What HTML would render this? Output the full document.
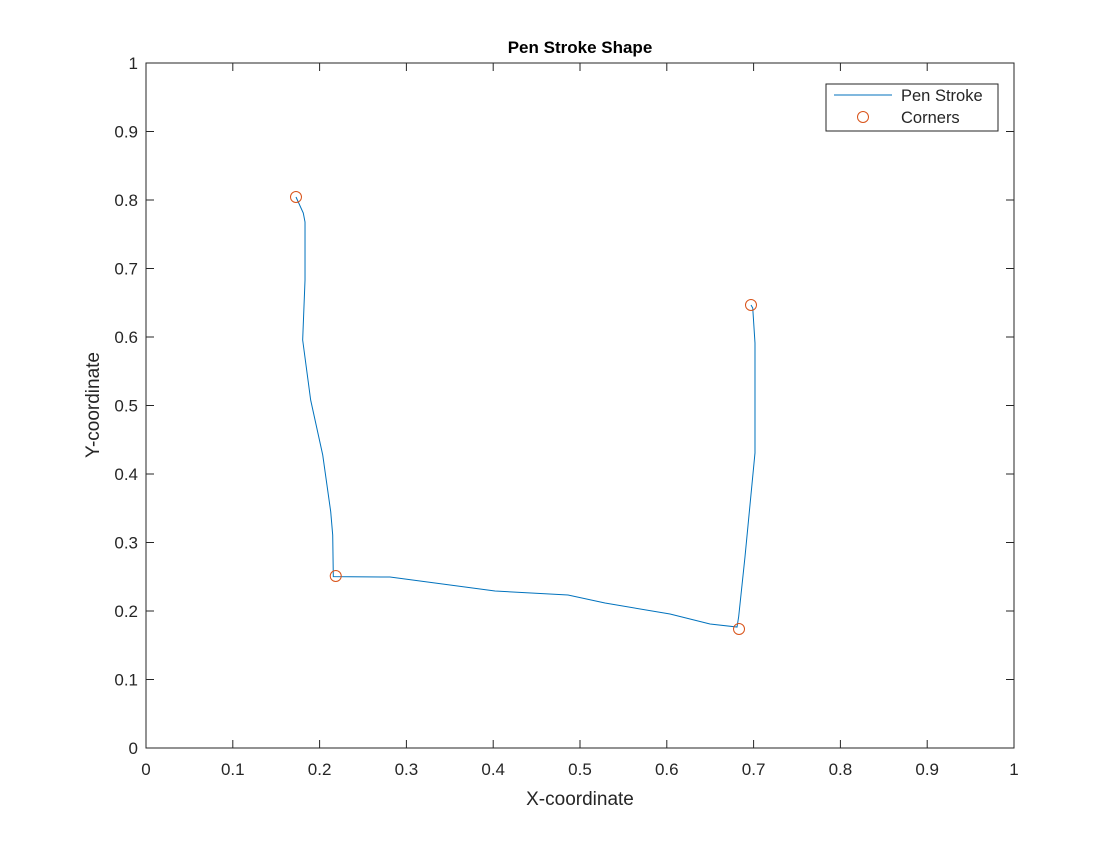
<!DOCTYPE html>
<html><head><meta charset="utf-8"><style>
body{margin:0;background:#fff;font-family:"Liberation Sans",Arial,sans-serif}
svg text{font-family:"Liberation Sans",Arial,sans-serif;fill:#262626}
</style></head><body>
<svg id="chart" width="1120" height="840" xmlns="http://www.w3.org/2000/svg">
<rect width="1120" height="840" fill="#fff"/>
<g id="axes"></g>
<text x="580" y="53" text-anchor="middle" font-size="17" font-weight="bold" style="fill:#000">Pen Stroke Shape</text>
<text x="580" y="805" text-anchor="middle" font-size="19">X-coordinate</text>
<text transform="translate(99,405) rotate(-90)" text-anchor="middle" font-size="19">Y-coordinate</text>
<g>
<rect x="826" y="84" width="172" height="47" fill="#fff" stroke="#262626" stroke-width="1"/>
<line x1="834" y1="95" x2="892" y2="95" stroke="#0072BD" stroke-width="1"/>
<text x="901" y="101" font-size="16.5">Pen Stroke</text>
<circle cx="863" cy="117" r="5.5" fill="none" stroke="#D95319" stroke-width="1"/>
<text x="901" y="123" font-size="16.5">Corners</text>
</g>
</svg>
<script>
const strokeX=[0.1728,0.1812,0.1832,0.1832,0.1805,0.1897,0.2036,0.2128,0.2151,0.2158,0.2811,0.4021,0.4862,0.5288,0.6037,0.6498,0.6809,0.6828,0.6901,0.7016,0.7016,0.6990,0.6970];
const strokeY=[0.8044,0.7810,0.7679,0.6832,0.5956,0.5080,0.4277,0.3450,0.3109,0.2501,0.2496,0.2292,0.2234,0.2117,0.1956,0.1810,0.1766,0.1917,0.2793,0.4307,0.5912,0.6423,0.6467];
const cornerX=[0.1728,0.2186,0.6832,0.6970];
const cornerY=[0.8044,0.2511,0.1737,0.6467];
const ticks=[0,0.1,0.2,0.3,0.4,0.5,0.6,0.7,0.8,0.9,1];
const tickLabels=["0","0.1","0.2","0.3","0.4","0.5","0.6","0.7","0.8","0.9","1"];
const L=146,R=1014,T=63,B=748;
const sx=v=>L+v*(R-L), sy=v=>B-v*(B-T);
const NS="http://www.w3.org/2000/svg";
const g=document.getElementById('axes');
function mk(t,a){const e=document.createElementNS(NS,t);for(const k in a)e.setAttribute(k,a[k]);g.appendChild(e);return e;}
const box=mk('rect',{x:L,y:T,width:R-L,height:B-T,fill:'none',stroke:'#262626','stroke-width':1});


ticks.forEach((t,i)=>{
  const x=sx(t),y=sy(t);
  mk('line',{x1:x,y1:B,x2:x,y2:B-8,stroke:'#262626'});
  mk('line',{x1:x,y1:T,x2:x,y2:T+8,stroke:'#262626'});
  mk('line',{x1:L,y1:y,x2:L+8,y2:y,stroke:'#262626'});
  mk('line',{x1:R,y1:y,x2:R-8,y2:y,stroke:'#262626'});
  const tx=mk('text',{x:x,y:B+27,'text-anchor':'middle','font-size':17});
  tx.textContent=tickLabels[i];
  
  
  const ty=mk('text',{x:L-8,y:y+6,'text-anchor':'end','font-size':17});
  ty.textContent=tickLabels[i];
  
  
});
const pl=mk('polyline',{points:strokeX.map((x,i)=>sx(x)+','+sy(strokeY[i])).join(' '),fill:'none',stroke:'#0072BD','stroke-width':1});


cornerX.forEach((x,i)=>{
  const c=mk('circle',{cx:sx(x),cy:sy(cornerY[i]),r:5.5,fill:'none',stroke:'#D95319','stroke-width':1});
  
  
});
</script>
</body></html>
